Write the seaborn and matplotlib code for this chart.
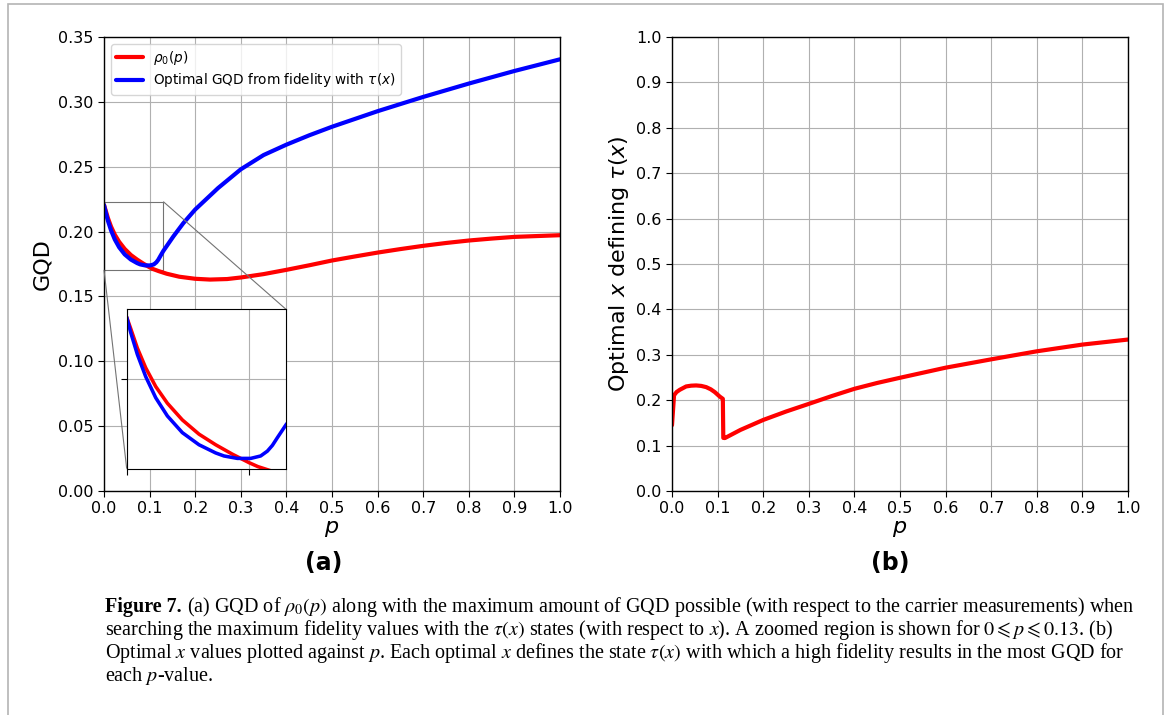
import pandas as pd
import seaborn as sns
import matplotlib.pyplot as plt
from matplotlib.patches import Rectangle
from mpl_toolkits.axes_grid1.inset_locator import mark_inset

# (a) GQD of rho_0(p)
p_rho = [0.0, 0.0033, 0.0087, 0.0155, 0.0237, 0.0332, 0.0454, 0.0590, 0.0726,
         0.0862, 0.0998, 0.107, 0.120, 0.1375, 0.165, 0.2, 0.2325, 0.27, 0.3,
         0.35, 0.4, 0.45, 0.5, 0.55, 0.6, 0.65, 0.7, 0.75, 0.8, 0.85, 0.9, 1.0]
gqd_rho = [0.2205, 0.2167, 0.2103, 0.2038, 0.1976, 0.1921, 0.1866, 0.1819, 0.1784,
           0.1753, 0.1725, 0.1712, 0.1695, 0.1675, 0.1652, 0.1636, 0.1630, 0.1634,
           0.1646, 0.1672, 0.1705, 0.1740, 0.1777, 0.1808, 0.1838, 0.1865, 0.1890,
           0.1912, 0.1931, 0.1946, 0.1959, 0.1972]

# (a) optimal GQD from fidelity with tau(x)
p_opt = [0.0, 0.0033, 0.0087, 0.0155, 0.0237, 0.0332, 0.0454, 0.0590, 0.0726,
         0.0794, 0.0903, 0.1012, 0.1093, 0.1148, 0.1189, 0.1229, 0.130, 0.152,
         0.174, 0.2, 0.25, 0.3, 0.35, 0.4, 0.45, 0.5, 0.6, 0.7, 0.8, 0.9, 1.0]
gqd_opt = [0.2205, 0.2154, 0.2082, 0.2009, 0.1939, 0.1879, 0.1824, 0.1784, 0.1757,
           0.1747, 0.1739, 0.1739, 0.1747, 0.1763, 0.1782, 0.1807, 0.1850, 0.1962,
           0.2065, 0.2170, 0.2335, 0.2480, 0.2590, 0.2670, 0.2742, 0.2808, 0.2928,
           0.3038, 0.3141, 0.3238, 0.3328]

# (b) optimal x against p
p_x = [0.0, 0.0045, 0.010, 0.017, 0.031, 0.042, 0.053, 0.064, 0.075, 0.085, 0.094,
       0.1047, 0.1115, 0.1125, 0.116, 0.15, 0.2, 0.25, 0.3, 0.35, 0.4, 0.45, 0.5,
       0.6, 0.7, 0.8, 0.9, 1.0]
x_best = [0.145, 0.211, 0.218, 0.2229, 0.2303, 0.2320, 0.2325, 0.2315, 0.2288,
          0.2240, 0.2177, 0.208, 0.203, 0.117, 0.1166, 0.1345, 0.1565, 0.1750,
          0.1919, 0.2090, 0.2251, 0.2380, 0.2494, 0.2716, 0.2900, 0.3077, 0.3225,
          0.3336]

df_rho = pd.DataFrame({'p': p_rho, 'gqd': gqd_rho})
df_opt = pd.DataFrame({'p': p_opt, 'gqd': gqd_opt})
df_x = pd.DataFrame({'p': p_x, 'x': x_best})

sns.set_style('ticks')
plt.rcParams.update({'text.color': 'black', 'axes.labelcolor': 'black',
                     'xtick.color': 'black', 'ytick.color': 'black',
                     'mathtext.fontset': 'dejavusans'})

W, H = 1168, 715
fig = plt.figure(figsize=(W / 100, H / 100), dpi=100)

def box(l, t, w, h):
    return [l / W, 1 - (t + h) / H, w / W, h / H]

ax1 = fig.add_axes(box(104, 37, 456, 454))
ax2 = fig.add_axes(box(672, 37, 456, 454))

lw = 3
sns.lineplot(data=df_rho, x='p', y='gqd', color='red', lw=lw, ax=ax1,
             label=r'$\rho_0(p)$', estimator=None, sort=False)
sns.lineplot(data=df_opt, x='p', y='gqd', color='blue', lw=lw, ax=ax1,
             label=r'Optimal GQD from fidelity with $\tau(x)$', estimator=None, sort=False)
sns.lineplot(data=df_x, x='p', y='x', color='red', lw=lw, ax=ax2,
             estimator=None, sort=False)

for ax in (ax1, ax2):
    ax.set_xlim(0, 1)
    ax.set_xticks([i / 10 for i in range(11)])
    ax.grid(True, color='#b0b0b0', lw=0.8)
    ax.tick_params(labelsize=11.5, length=4, color='black')
    ax.set_xlabel(r'$p$', fontsize=16, labelpad=2)
    for s in ax.spines.values():
        s.set_color('black')
        s.set_linewidth(1.0)

ax1.set_ylim(0, 0.35)
ax1.set_yticks([i * 0.05 for i in range(8)])
ax1.set_yticklabels([f'{i * 0.05:.2f}' for i in range(8)])
ax1.set_ylabel('GQD', fontsize=16)
ax1.legend(loc='upper left', fontsize=9.8, handlelength=2.0, labelspacing=0.3,
           borderaxespad=0.5, handletextpad=0.7, framealpha=0.8)

ax2.set_ylim(0, 1)
ax2.set_yticks([i / 10 for i in range(11)])
ax2.set_ylabel(r'Optimal $x$ defining $\tau(x)$', fontsize=16)

# zoomed inset
axins = fig.add_axes(box(126.7, 309.3, 159.3, 159.4))
sns.lineplot(data=df_rho, x='p', y='gqd', color='red', lw=lw * 0.85, ax=axins,
             estimator=None, sort=False, legend=False)
sns.lineplot(data=df_opt, x='p', y='gqd', color='blue', lw=lw * 0.85, ax=axins,
             estimator=None, sort=False, legend=False)
axins.set_xlim(0, 0.13)
axins.set_ylim(0.1705, 0.2231)
axins.set_xticks([0, 0.1])
axins.set_yticks([0.2])
axins.set_xticklabels([])
axins.set_yticklabels([])
axins.set_xlabel('')
axins.set_ylabel('')
axins.grid(True, color='#b0b0b0', lw=0.8)
axins.tick_params(length=4)
for s in axins.spines.values():
    s.set_color('black')
mark_inset(ax1, axins, loc1=1, loc2=3, fc='none', ec='0.45', lw=0.8)

fig.text(324 / W, 1 - 563 / H, '(a)', fontsize=17, fontweight='bold',
         ha='center', va='center')
fig.text(890 / W, 1 - 563 / H, '(b)', fontsize=17, fontweight='bold',
         ha='center', va='center')

# caption
cap_font = dict(family='Liberation Serif', fontsize=14.5)
plt.rcParams['mathtext.fontset'] = 'stix'
lines = [
    r'(a) GQD of $\rho_0(p)$ along with the maximum amount of GQD possible (with respect to the carrier measurements) when',
    r'searching the maximum fidelity values with the $\tau(x)$ states (with respect to $x$). A zoomed region is shown for $0 \leqslant p \leqslant 0.13$. (b)',
    r'Optimal $x$ values plotted against $p$. Each optimal $x$ defines the state $\tau(x)$ with which a high fidelity results in the most GQD for',
    r'each $p$-value.',
]
x0 = 105 / W
renderer = fig.canvas.get_renderer()
head = fig.text(x0, 1 - 607 / H, 'Figure 7.', fontweight='bold', va='center', **cap_font)
hw = head.get_window_extent(renderer).width
fig.text(x0 + (hw + 5) / W, 1 - 607 / H, lines[0], va='center', **cap_font)
for k, ln in enumerate(lines[1:]):
    fig.text(x0, 1 - (630 + 23 * k) / H, ln, va='center', **cap_font)

# light frame around the figure
fig.patches.append(Rectangle((8 / W, -0.05), 1155 / W, 1.05 - 4 / H,
                             transform=fig.transFigure, fill=False,
                             ec='#b4b4b4', lw=1.2))

fig.savefig('out.png', dpi=100)
